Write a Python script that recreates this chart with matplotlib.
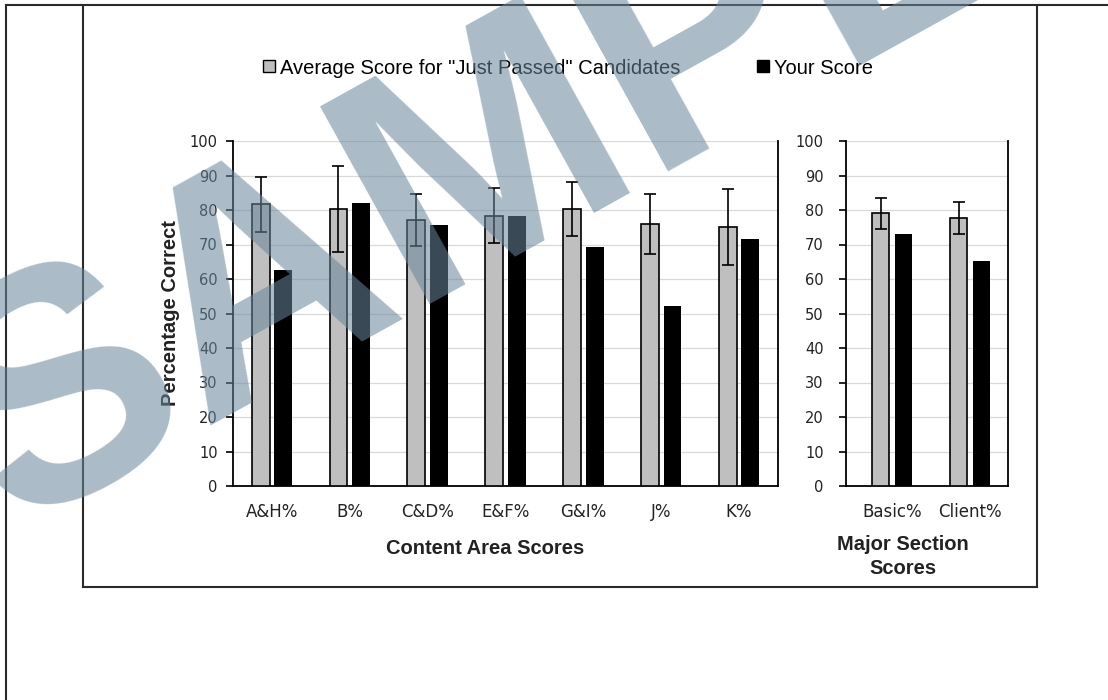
import numpy as np
import matplotlib
matplotlib.use("Agg")
import matplotlib.pyplot as plt
from matplotlib.lines import Line2D

# data
content_cats = ["A&H%", "B%", "C&D%", "E&F%", "G&I%", "J%", "K%"]
content_avg = [81.7, 80.2, 77.1, 78.3, 80.2, 75.9, 75.0]
content_err = [8.0, 12.5, 7.6, 8.0, 7.8, 8.6, 11.0]
content_you = [62.6, 81.9, 75.6, 78.3, 69.4, 52.2, 71.5]

section_cats = ["Basic%", "Client%"]
section_avg = [79.0, 77.6]
section_err = [4.4, 4.6]
section_you = [73.0, 65.3]

yticks = list(range(0, 101, 10))

W, H = 1108, 700
fig = plt.figure(figsize=(W / 100, H / 100), dpi=100)

def px(x, y):
    return x / W, 1 - y / H

ax1 = fig.add_axes([233 / W, 1 - 486 / H, 545 / W, 345 / H])
ax2 = fig.add_axes([846 / W, 1 - 486 / H, 162 / W, 345 / H])

def draw_panel(ax, cats, avg, err, you, width, off, pad):
    x = np.arange(len(cats))
    ax.bar(x - off, avg, width, color="#BFBFBF", edgecolor="black", linewidth=1.2, zorder=3,
           yerr=err, error_kw=dict(ecolor="black", elinewidth=1.2, capsize=4, capthick=1.2, zorder=4))
    ax.bar(x + off, you, width, color="black", zorder=3)
    ax.set_ylim(0, 100)
    ax.set_yticks(yticks)
    ax.set_xticks(x)
    ax.set_xticklabels(cats, fontsize=12, color="#222222")
    ax.tick_params(axis="x", length=0, pad=12)
    ax.tick_params(axis="y", length=5, width=1.2, labelsize=10.5, pad=pad, labelcolor="#222222")
    ax.grid(axis="y", color="#D9D9D9", linewidth=0.9, zorder=0)
    ax.set_axisbelow(True)
    ax.spines["top"].set_visible(False)
    for s in ["left", "right", "bottom"]:
        ax.spines[s].set_linewidth(1.3)
        ax.spines[s].set_color("black")

draw_panel(ax1, content_cats, content_avg, content_err, content_you, 0.23, 0.145, 6)
ax1.set_xlim(-0.5, len(content_cats) - 0.5)
draw_panel(ax2, section_cats, section_avg, section_err, section_you, 0.22, 0.145, 11)
ax2.set_xlim(-0.59, 1.49)

lab = dict(fontsize=14.5, fontweight="bold", family=["Liberation Sans", "DejaVu Sans"], color="#222222")
fig.text(*px(170, 313), "Percentage Correct", rotation=90, ha="center", va="center", **lab)
fig.text(*px(485, 548), "Content Area Scores", ha="center", va="center", **lab)
fig.text(*px(903, 535), "Major Section\nScores", ha="center", va="top", linespacing=1.3, **lab)

handles = [
    Line2D([], [], marker="s", linestyle="none", markersize=8, markerfacecolor="#BFBFBF",
           markeredgecolor="black", markeredgewidth=1.0),
    Line2D([], [], marker="s", linestyle="none", markersize=8, markerfacecolor="black",
           markeredgecolor="black"),
]
fig.legend(handles, ['Average Score for "Just Passed" Candidates', "Your Score"],
           loc="center", bbox_to_anchor=px(566, 68), ncol=2, frameon=False,
           handlelength=1.0, handletextpad=0.05, columnspacing=3.6,
           prop=dict(family=["Liberation Sans", "DejaVu Sans"], size=14.5))

# frame lines
frame = [((6, 5), (1108, 5)), ((6, 5), (6, 700)), ((83, 5), (83, 587)),
         ((83, 587), (1037, 587)), ((1037, 5), (1037, 587))]
for (x0, y0), (x1, y1) in frame:
    a, b = px(x0, y0)
    c, d = px(x1, y1)
    fig.add_artist(Line2D([a, c], [b, d], color="#2a2a2a", linewidth=1.5, transform=fig.transFigure))

# watermark
fig.text(*px(568, 125), "SAMPLE", fontsize=236, fontweight="bold", rotation=29,
         family=["Liberation Sans", "DejaVu Sans"], color="#68869B", alpha=0.56,
         ha="center", va="center", rotation_mode="anchor", zorder=10)

fig.savefig("out.png", dpi=100)
